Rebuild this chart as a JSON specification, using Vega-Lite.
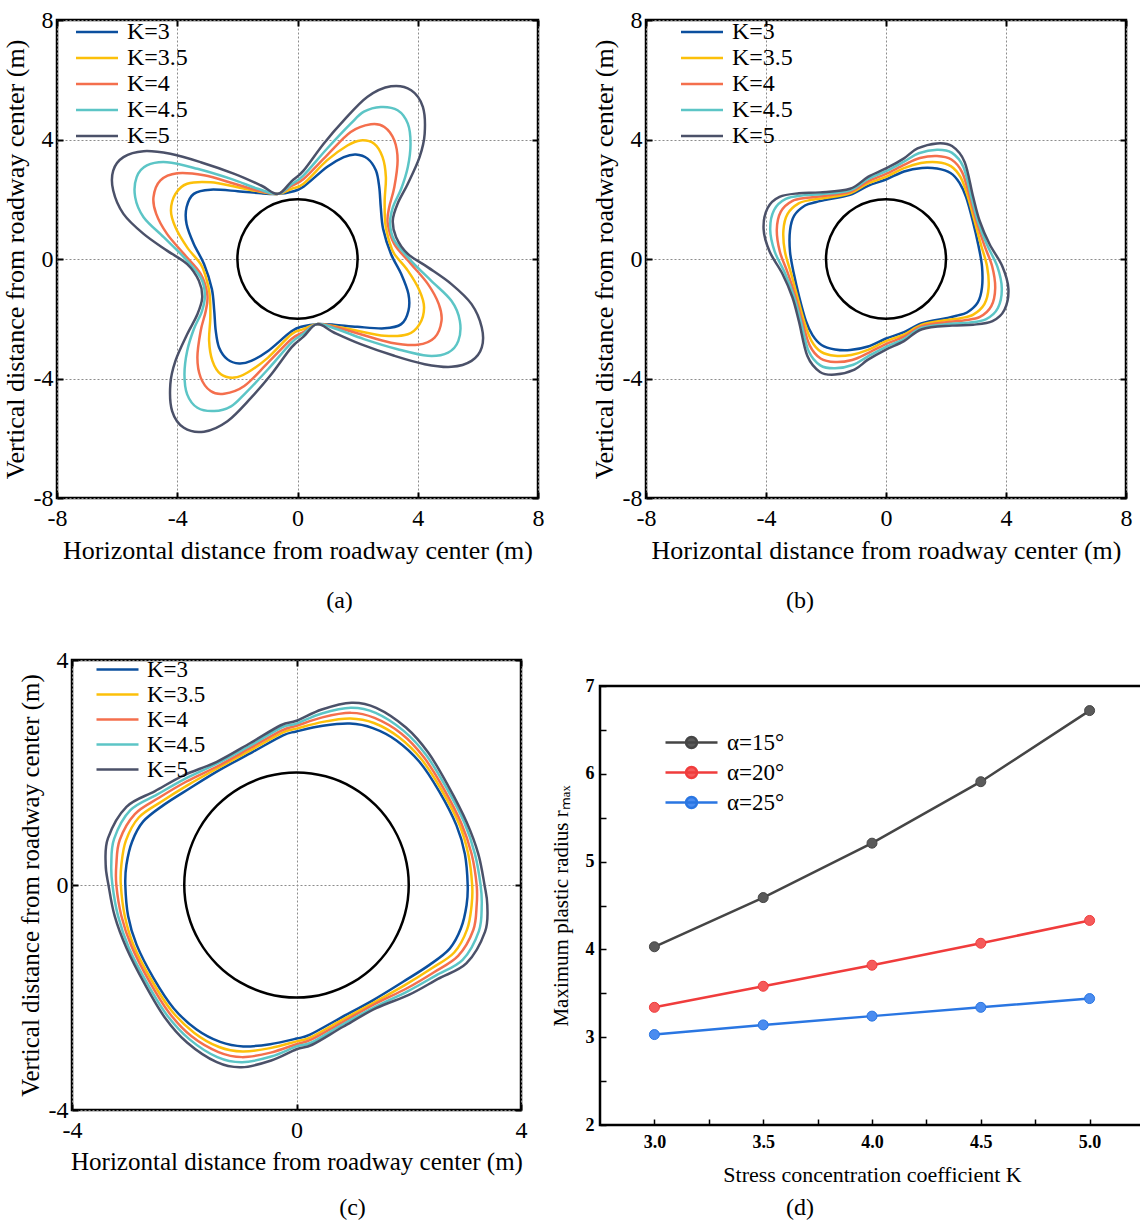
{
"$schema": "https://vega.github.io/schema/vega-lite/v6.json",
"background": "white",
"padding": {"left": 0, "top": 6, "right": 0, "bottom": 0},
"config": {"view": {"stroke": "black", "strokeWidth": 2.5}, "font": "Liberation Serif"},
"datasets": {
"circ": [{"x":2,"y":0},{"x":1.932,"y":0.518},{"x":1.732,"y":1},{"x":1.414,"y":1.414},{"x":1,"y":1.732},{"x":0.518,"y":1.932},{"x":0,"y":2},{"x":-0.518,"y":1.932},{"x":-1,"y":1.732},{"x":-1.414,"y":1.414},{"x":-1.732,"y":1},{"x":-1.932,"y":0.518},{"x":-2,"y":0},{"x":-1.932,"y":-0.518},{"x":-1.732,"y":-1},{"x":-1.414,"y":-1.414},{"x":-1,"y":-1.732},{"x":-0.518,"y":-1.932},{"x":0,"y":-2},{"x":0.518,"y":-1.932},{"x":1,"y":-1.732},{"x":1.414,"y":-1.414},{"x":1.732,"y":-1},{"x":1.932,"y":-0.518}],
"a": [
{"k":"3","x":-0.65,"y":2.18},{"k":"3","x":-0.2,"y":2.25},{"k":"3","x":0.2,"y":2.42},{"k":"3","x":0.98,"y":3.08},{"k":"3","x":1.54,"y":3.41},{"k":"3","x":1.94,"y":3.5},{"k":"3","x":2.33,"y":3.36},{"k":"3","x":2.61,"y":2.96},{"k":"3","x":2.72,"y":2.4},{"k":"3","x":2.77,"y":1.73},{"k":"3","x":2.85,"y":1.0},{"k":"3","x":3.11,"y":0.17},{"k":"3","x":3.45,"y":-0.5},{"k":"3","x":3.69,"y":-1.17},{"k":"3","x":3.69,"y":-1.73},{"k":"3","x":3.45,"y":-2.18},{"k":"3","x":2.89,"y":-2.32},{"k":"3","x":1.99,"y":-2.27},{"k":"3","x":1.21,"y":-2.2},{"k":"3","x":0.65,"y":-2.18},
{"k":"3","x":0.2,"y":-2.25},{"k":"3","x":-0.2,"y":-2.42},{"k":"3","x":-0.98,"y":-3.08},{"k":"3","x":-1.54,"y":-3.41},{"k":"3","x":-1.94,"y":-3.5},{"k":"3","x":-2.33,"y":-3.36},{"k":"3","x":-2.61,"y":-2.96},{"k":"3","x":-2.72,"y":-2.4},{"k":"3","x":-2.77,"y":-1.73},{"k":"3","x":-2.85,"y":-1.0},{"k":"3","x":-3.11,"y":-0.17},{"k":"3","x":-3.45,"y":0.5},{"k":"3","x":-3.69,"y":1.17},{"k":"3","x":-3.69,"y":1.73},{"k":"3","x":-3.45,"y":2.18},{"k":"3","x":-2.89,"y":2.32},{"k":"3","x":-1.99,"y":2.27},{"k":"3","x":-1.21,"y":2.2},
{"k":"3.5","x":-0.65,"y":2.18},{"k":"3.5","x":-0.2,"y":2.35},{"k":"3.5","x":0.2,"y":2.52},{"k":"3.5","x":0.98,"y":3.3},{"k":"3.5","x":1.66,"y":3.8},{"k":"3.5","x":2.1,"y":3.97},{"k":"3.5","x":2.55,"y":3.86},{"k":"3.5","x":2.83,"y":3.41},{"k":"3.5","x":2.94,"y":2.74},{"k":"3.5","x":2.9,"y":1.96},{"k":"3.5","x":2.92,"y":1.2},{"k":"3.5","x":3.05,"y":0.6},{"k":"3.5","x":3.22,"y":0.17},{"k":"3.5","x":3.67,"y":-0.39},{"k":"3.5","x":4.06,"y":-1.06},{"k":"3.5","x":4.21,"y":-1.62},{"k":"3.5","x":4.06,"y":-2.18},{"k":"3.5","x":3.67,"y":-2.52},{"k":"3.5","x":2.89,"y":-2.57},{"k":"3.5","x":1.99,"y":-2.4},{"k":"3.5","x":1.32,"y":-2.27},{"k":"3.5","x":0.65,"y":-2.18},
{"k":"3.5","x":0.2,"y":-2.35},{"k":"3.5","x":-0.2,"y":-2.52},{"k":"3.5","x":-0.98,"y":-3.3},{"k":"3.5","x":-1.66,"y":-3.8},{"k":"3.5","x":-2.1,"y":-3.97},{"k":"3.5","x":-2.55,"y":-3.86},{"k":"3.5","x":-2.83,"y":-3.41},{"k":"3.5","x":-2.94,"y":-2.74},{"k":"3.5","x":-2.9,"y":-1.96},{"k":"3.5","x":-2.92,"y":-1.2},{"k":"3.5","x":-3.05,"y":-0.6},{"k":"3.5","x":-3.22,"y":-0.17},{"k":"3.5","x":-3.67,"y":0.39},{"k":"3.5","x":-4.06,"y":1.06},{"k":"3.5","x":-4.21,"y":1.62},{"k":"3.5","x":-4.06,"y":2.18},{"k":"3.5","x":-3.67,"y":2.52},{"k":"3.5","x":-2.89,"y":2.57},{"k":"3.5","x":-1.99,"y":2.4},{"k":"3.5","x":-1.32,"y":2.27},
{"k":"4","x":-0.65,"y":2.18},{"k":"4","x":-0.2,"y":2.45},{"k":"4","x":0.2,"y":2.68},{"k":"4","x":0.98,"y":3.47},{"k":"4","x":1.77,"y":4.25},{"k":"4","x":2.44,"y":4.51},{"k":"4","x":2.89,"y":4.42},{"k":"4","x":3.22,"y":3.97},{"k":"4","x":3.33,"y":3.3},{"k":"4","x":3.22,"y":2.4},{"k":"4","x":3.05,"y":1.73},{"k":"4","x":3.0,"y":1.2},{"k":"4","x":3.22,"y":0.5},{"k":"4","x":3.78,"y":-0.17},{"k":"4","x":4.34,"y":-0.84},{"k":"4","x":4.7,"y":-1.51},{"k":"4","x":4.79,"y":-2.07},{"k":"4","x":4.56,"y":-2.63},{"k":"4","x":4.0,"y":-2.87},{"k":"4","x":3.11,"y":-2.8},{"k":"4","x":2.1,"y":-2.52},{"k":"4","x":1.32,"y":-2.29},{"k":"4","x":0.65,"y":-2.18},
{"k":"4","x":0.2,"y":-2.45},{"k":"4","x":-0.2,"y":-2.68},{"k":"4","x":-0.98,"y":-3.47},{"k":"4","x":-1.77,"y":-4.25},{"k":"4","x":-2.44,"y":-4.51},{"k":"4","x":-2.89,"y":-4.42},{"k":"4","x":-3.22,"y":-3.97},{"k":"4","x":-3.33,"y":-3.3},{"k":"4","x":-3.22,"y":-2.4},{"k":"4","x":-3.05,"y":-1.73},{"k":"4","x":-3.0,"y":-1.2},{"k":"4","x":-3.22,"y":-0.5},{"k":"4","x":-3.78,"y":0.17},{"k":"4","x":-4.34,"y":0.84},{"k":"4","x":-4.7,"y":1.51},{"k":"4","x":-4.79,"y":2.07},{"k":"4","x":-4.56,"y":2.63},{"k":"4","x":-4.0,"y":2.87},{"k":"4","x":-3.11,"y":2.8},{"k":"4","x":-2.1,"y":2.52},{"k":"4","x":-1.32,"y":2.29},
{"k":"4.5","x":-0.65,"y":2.18},{"k":"4.5","x":-0.2,"y":2.5},{"k":"4.5","x":0.2,"y":2.8},{"k":"4.5","x":0.98,"y":3.69},{"k":"4.5","x":1.77,"y":4.53},{"k":"4.5","x":2.21,"y":4.93},{"k":"4.5","x":2.77,"y":5.09},{"k":"4.5","x":3.33,"y":4.98},{"k":"4.5","x":3.67,"y":4.53},{"k":"4.5","x":3.76,"y":3.86},{"k":"4.5","x":3.67,"y":3.08},{"k":"4.5","x":3.45,"y":2.35},{"k":"4.5","x":3.18,"y":1.75},{"k":"4.5","x":3.08,"y":1.2},{"k":"4.5","x":3.22,"y":0.62},{"k":"4.5","x":3.78,"y":-0.06},{"k":"4.5","x":4.45,"y":-0.73},{"k":"4.5","x":5.12,"y":-1.4},{"k":"4.5","x":5.4,"y":-2.07},{"k":"4.5","x":5.35,"y":-2.74},{"k":"4.5","x":5.01,"y":-3.13},{"k":"4.5","x":4.34,"y":-3.24},{"k":"4.5","x":3.33,"y":-3.02},{"k":"4.5","x":2.21,"y":-2.68},{"k":"4.5","x":1.32,"y":-2.35},{"k":"4.5","x":0.65,"y":-2.18},
{"k":"4.5","x":0.2,"y":-2.5},{"k":"4.5","x":-0.2,"y":-2.8},{"k":"4.5","x":-0.98,"y":-3.69},{"k":"4.5","x":-1.77,"y":-4.53},{"k":"4.5","x":-2.21,"y":-4.93},{"k":"4.5","x":-2.77,"y":-5.09},{"k":"4.5","x":-3.33,"y":-4.98},{"k":"4.5","x":-3.67,"y":-4.53},{"k":"4.5","x":-3.76,"y":-3.86},{"k":"4.5","x":-3.67,"y":-3.08},{"k":"4.5","x":-3.45,"y":-2.35},{"k":"4.5","x":-3.18,"y":-1.75},{"k":"4.5","x":-3.08,"y":-1.2},{"k":"4.5","x":-3.22,"y":-0.62},{"k":"4.5","x":-3.78,"y":0.06},{"k":"4.5","x":-4.45,"y":0.73},{"k":"4.5","x":-5.12,"y":1.4},{"k":"4.5","x":-5.4,"y":2.07},{"k":"4.5","x":-5.35,"y":2.74},{"k":"4.5","x":-5.01,"y":3.13},{"k":"4.5","x":-4.34,"y":3.24},{"k":"4.5","x":-3.33,"y":3.02},{"k":"4.5","x":-2.21,"y":2.68},{"k":"4.5","x":-1.32,"y":2.35},
{"k":"5","x":-0.65,"y":2.18},{"k":"5","x":-0.2,"y":2.6},{"k":"5","x":0.2,"y":2.96},{"k":"5","x":0.87,"y":3.86},{"k":"5","x":1.54,"y":4.64},{"k":"5","x":2.33,"y":5.43},{"k":"5","x":3.11,"y":5.78},{"k":"5","x":3.78,"y":5.65},{"k":"5","x":4.17,"y":5.09},{"k":"5","x":4.23,"y":4.19},{"k":"5","x":4.06,"y":3.41},{"k":"5","x":3.67,"y":2.52},{"k":"5","x":3.33,"y":1.85},{"k":"5","x":3.17,"y":1.29},{"k":"5","x":3.28,"y":0.73},{"k":"5","x":3.67,"y":0.17},{"k":"5","x":4.34,"y":-0.28},{"k":"5","x":5.12,"y":-0.84},{"k":"5","x":5.79,"y":-1.51},{"k":"5","x":6.13,"y":-2.29},{"k":"5","x":6.13,"y":-2.96},{"k":"5","x":5.79,"y":-3.41},{"k":"5","x":5.12,"y":-3.61},{"k":"5","x":4.23,"y":-3.52},{"k":"5","x":3.22,"y":-3.24},{"k":"5","x":2.1,"y":-2.85},{"k":"5","x":1.21,"y":-2.46},{"k":"5","x":0.65,"y":-2.18},
{"k":"5","x":0.2,"y":-2.6},{"k":"5","x":-0.2,"y":-2.96},{"k":"5","x":-0.87,"y":-3.86},{"k":"5","x":-1.54,"y":-4.64},{"k":"5","x":-2.33,"y":-5.43},{"k":"5","x":-3.11,"y":-5.78},{"k":"5","x":-3.78,"y":-5.65},{"k":"5","x":-4.17,"y":-5.09},{"k":"5","x":-4.23,"y":-4.19},{"k":"5","x":-4.06,"y":-3.41},{"k":"5","x":-3.67,"y":-2.52},{"k":"5","x":-3.33,"y":-1.85},{"k":"5","x":-3.17,"y":-1.29},{"k":"5","x":-3.28,"y":-0.73},{"k":"5","x":-3.67,"y":-0.17},{"k":"5","x":-4.34,"y":0.28},{"k":"5","x":-5.12,"y":0.84},{"k":"5","x":-5.79,"y":1.51},{"k":"5","x":-6.13,"y":2.29},{"k":"5","x":-6.13,"y":2.96},{"k":"5","x":-5.79,"y":3.41},{"k":"5","x":-5.12,"y":3.61},{"k":"5","x":-4.23,"y":3.52},{"k":"5","x":-3.22,"y":3.24},{"k":"5","x":-2.1,"y":2.85},{"k":"5","x":-1.21,"y":2.46}
],
"b": [
{"k":"3","x":0,"y":2.66},{"k":"3","x":0.6,"y":2.93},{"k":"3","x":1.2,"y":3.05},{"k":"3","x":1.7,"y":3.03},{"k":"3","x":2.15,"y":2.88},{"k":"3","x":2.45,"y":2.55},{"k":"3","x":2.67,"y":2.07},{"k":"3","x":2.89,"y":1.28},{"k":"3","x":3.08,"y":0.45},{"k":"3","x":3.2,"y":-0.25},{"k":"3","x":3.2,"y":-0.95},{"k":"3","x":3.06,"y":-1.45},{"k":"3","x":2.7,"y":-1.79},{"k":"3","x":2.35,"y":-1.9},{"k":"3","x":2.0,"y":-1.98},{"k":"3","x":1.2,"y":-2.15},{"k":"3","x":0.6,"y":-2.45},{"k":"3","x":0,"y":-2.66},
{"k":"3","x":-0.6,"y":-2.93},{"k":"3","x":-1.2,"y":-3.05},{"k":"3","x":-1.7,"y":-3.03},{"k":"3","x":-2.15,"y":-2.88},{"k":"3","x":-2.45,"y":-2.55},{"k":"3","x":-2.67,"y":-2.07},{"k":"3","x":-2.89,"y":-1.28},{"k":"3","x":-3.08,"y":-0.45},{"k":"3","x":-3.2,"y":0.25},{"k":"3","x":-3.2,"y":0.95},{"k":"3","x":-3.06,"y":1.45},{"k":"3","x":-2.7,"y":1.79},{"k":"3","x":-2.35,"y":1.9},{"k":"3","x":-2.0,"y":1.98},{"k":"3","x":-1.2,"y":2.15},{"k":"3","x":-0.6,"y":2.45},
{"k":"3.5","x":0,"y":2.75},{"k":"3.5","x":0.6,"y":3.04},{"k":"3.5","x":1.16,"y":3.21},{"k":"3.5","x":1.7,"y":3.24},{"k":"3.5","x":2.16,"y":3.11},{"k":"3.5","x":2.49,"y":2.73},{"k":"3.5","x":2.73,"y":2.08},{"k":"3.5","x":2.95,"y":1.28},{"k":"3.5","x":3.17,"y":0.46},{"k":"3.5","x":3.37,"y":-0.25},{"k":"3.5","x":3.42,"y":-0.96},{"k":"3.5","x":3.28,"y":-1.51},{"k":"3.5","x":2.91,"y":-1.86},{"k":"3.5","x":2.49,"y":-1.98},{"k":"3.5","x":2.05,"y":-2.04},{"k":"3.5","x":1.2,"y":-2.2},{"k":"3.5","x":0.6,"y":-2.53},{"k":"3.5","x":0,"y":-2.75},
{"k":"3.5","x":-0.6,"y":-3.04},{"k":"3.5","x":-1.16,"y":-3.21},{"k":"3.5","x":-1.7,"y":-3.24},{"k":"3.5","x":-2.16,"y":-3.11},{"k":"3.5","x":-2.49,"y":-2.73},{"k":"3.5","x":-2.73,"y":-2.08},{"k":"3.5","x":-2.95,"y":-1.28},{"k":"3.5","x":-3.17,"y":-0.46},{"k":"3.5","x":-3.37,"y":0.25},{"k":"3.5","x":-3.42,"y":0.96},{"k":"3.5","x":-3.28,"y":1.51},{"k":"3.5","x":-2.91,"y":1.86},{"k":"3.5","x":-2.49,"y":1.98},{"k":"3.5","x":-2.05,"y":2.04},{"k":"3.5","x":-1.2,"y":2.2},{"k":"3.5","x":-0.6,"y":2.53},
{"k":"4","x":0,"y":2.85},{"k":"4","x":0.6,"y":3.15},{"k":"4","x":1.13,"y":3.38},{"k":"4","x":1.7,"y":3.45},{"k":"4","x":2.18,"y":3.33},{"k":"4","x":2.54,"y":2.9},{"k":"4","x":2.79,"y":2.09},{"k":"4","x":3.01,"y":1.28},{"k":"4","x":3.27,"y":0.48},{"k":"4","x":3.54,"y":-0.25},{"k":"4","x":3.64,"y":-0.98},{"k":"4","x":3.51,"y":-1.58},{"k":"4","x":3.13,"y":-1.94},{"k":"4","x":2.63,"y":-2.05},{"k":"4","x":2.1,"y":-2.11},{"k":"4","x":1.2,"y":-2.25},{"k":"4","x":0.6,"y":-2.6},{"k":"4","x":0,"y":-2.85},
{"k":"4","x":-0.6,"y":-3.15},{"k":"4","x":-1.13,"y":-3.38},{"k":"4","x":-1.7,"y":-3.45},{"k":"4","x":-2.18,"y":-3.33},{"k":"4","x":-2.54,"y":-2.9},{"k":"4","x":-2.79,"y":-2.09},{"k":"4","x":-3.01,"y":-1.28},{"k":"4","x":-3.27,"y":-0.48},{"k":"4","x":-3.54,"y":0.25},{"k":"4","x":-3.64,"y":0.98},{"k":"4","x":-3.51,"y":1.58},{"k":"4","x":-3.13,"y":1.94},{"k":"4","x":-2.63,"y":2.05},{"k":"4","x":-2.1,"y":2.11},{"k":"4","x":-1.2,"y":2.25},{"k":"4","x":-0.6,"y":2.6},
{"k":"4.5","x":0,"y":2.94},{"k":"4.5","x":0.6,"y":3.26},{"k":"4.5","x":1.09,"y":3.54},{"k":"4.5","x":1.7,"y":3.66},{"k":"4.5","x":2.19,"y":3.56},{"k":"4.5","x":2.58,"y":3.08},{"k":"4.5","x":2.84,"y":2.09},{"k":"4.5","x":3.06,"y":1.28},{"k":"4.5","x":3.36,"y":0.49},{"k":"4.5","x":3.71,"y":-0.25},{"k":"4.5","x":3.86,"y":-0.99},{"k":"4.5","x":3.73,"y":-1.64},{"k":"4.5","x":3.34,"y":-2.01},{"k":"4.5","x":2.76,"y":-2.13},{"k":"4.5","x":2.15,"y":-2.17},{"k":"4.5","x":1.2,"y":-2.3},{"k":"4.5","x":0.6,"y":-2.68},{"k":"4.5","x":0,"y":-2.94},
{"k":"4.5","x":-0.6,"y":-3.26},{"k":"4.5","x":-1.09,"y":-3.54},{"k":"4.5","x":-1.7,"y":-3.66},{"k":"4.5","x":-2.19,"y":-3.56},{"k":"4.5","x":-2.58,"y":-3.08},{"k":"4.5","x":-2.84,"y":-2.09},{"k":"4.5","x":-3.06,"y":-1.28},{"k":"4.5","x":-3.36,"y":-0.49},{"k":"4.5","x":-3.71,"y":0.25},{"k":"4.5","x":-3.86,"y":0.99},{"k":"4.5","x":-3.73,"y":1.64},{"k":"4.5","x":-3.34,"y":2.01},{"k":"4.5","x":-2.76,"y":2.13},{"k":"4.5","x":-2.15,"y":2.17},{"k":"4.5","x":-1.2,"y":2.3},{"k":"4.5","x":-0.6,"y":2.68},
{"k":"5","x":0,"y":3.03},{"k":"5","x":0.6,"y":3.37},{"k":"5","x":1.05,"y":3.7},{"k":"5","x":1.7,"y":3.87},{"k":"5","x":2.2,"y":3.78},{"k":"5","x":2.62,"y":3.25},{"k":"5","x":2.9,"y":2.1},{"k":"5","x":3.12,"y":1.28},{"k":"5","x":3.45,"y":0.5},{"k":"5","x":3.88,"y":-0.25},{"k":"5","x":4.08,"y":-1.0},{"k":"5","x":3.95,"y":-1.7},{"k":"5","x":3.55,"y":-2.08},{"k":"5","x":2.9,"y":-2.2},{"k":"5","x":2.2,"y":-2.23},{"k":"5","x":1.2,"y":-2.35},{"k":"5","x":0.6,"y":-2.75},{"k":"5","x":0,"y":-3.03},
{"k":"5","x":-0.6,"y":-3.37},{"k":"5","x":-1.05,"y":-3.7},{"k":"5","x":-1.7,"y":-3.87},{"k":"5","x":-2.2,"y":-3.78},{"k":"5","x":-2.62,"y":-3.25},{"k":"5","x":-2.9,"y":-2.1},{"k":"5","x":-3.12,"y":-1.28},{"k":"5","x":-3.45,"y":-0.5},{"k":"5","x":-3.88,"y":0.25},{"k":"5","x":-4.08,"y":1.0},{"k":"5","x":-3.95,"y":1.7},{"k":"5","x":-3.55,"y":2.08},{"k":"5","x":-2.9,"y":2.2},{"k":"5","x":-2.2,"y":2.23},{"k":"5","x":-1.2,"y":2.35},{"k":"5","x":-0.6,"y":2.75}
],
"c": [
{"k":"3","x":0,"y":2.73},{"k":"3","x":0.47,"y":2.83},{"k":"3","x":0.95,"y":2.87},{"k":"3","x":1.36,"y":2.79},{"k":"3","x":1.78,"y":2.57},{"k":"3","x":2.19,"y":2.19},{"k":"3","x":2.55,"y":1.65},{"k":"3","x":2.85,"y":1.06},{"k":"3","x":3.0,"y":0.55},{"k":"3","x":3.05,"y":0},{"k":"3","x":3.03,"y":-0.36},{"k":"3","x":2.93,"y":-0.77},{"k":"3","x":2.73,"y":-1.13},{"k":"3","x":2.37,"y":-1.42},{"k":"3","x":1.9,"y":-1.72},{"k":"3","x":1.36,"y":-2.05},{"k":"3","x":0.77,"y":-2.37},{"k":"3","x":0.24,"y":-2.66},{"k":"3","x":0,"y":-2.73},
{"k":"3","x":-0.47,"y":-2.83},{"k":"3","x":-0.95,"y":-2.87},{"k":"3","x":-1.36,"y":-2.79},{"k":"3","x":-1.78,"y":-2.57},{"k":"3","x":-2.19,"y":-2.19},{"k":"3","x":-2.55,"y":-1.65},{"k":"3","x":-2.85,"y":-1.06},{"k":"3","x":-3.0,"y":-0.55},{"k":"3","x":-3.05,"y":0},{"k":"3","x":-3.03,"y":0.36},{"k":"3","x":-2.93,"y":0.77},{"k":"3","x":-2.73,"y":1.13},{"k":"3","x":-2.37,"y":1.42},{"k":"3","x":-1.9,"y":1.72},{"k":"3","x":-1.36,"y":2.05},{"k":"3","x":-0.77,"y":2.37},{"k":"3","x":-0.24,"y":2.66},
{"k":"3.5","x":0,"y":2.78},{"k":"3.5","x":0.47,"y":2.9},{"k":"3.5","x":0.96,"y":2.96},{"k":"3.5","x":1.38,"y":2.88},{"k":"3.5","x":1.82,"y":2.63},{"k":"3.5","x":2.23,"y":2.23},{"k":"3.5","x":2.59,"y":1.68},{"k":"3.5","x":2.9,"y":1.08},{"k":"3.5","x":3.06,"y":0.55},{"k":"3.5","x":3.13,"y":0},{"k":"3.5","x":3.12,"y":-0.36},{"k":"3.5","x":3.04,"y":-0.79},{"k":"3.5","x":2.81,"y":-1.2},{"k":"3.5","x":2.41,"y":-1.48},{"k":"3.5","x":1.93,"y":-1.78},{"k":"3.5","x":1.38,"y":-2.09},{"k":"3.5","x":0.79,"y":-2.41},{"k":"3.5","x":0.25,"y":-2.71},{"k":"3.5","x":0,"y":-2.78},
{"k":"3.5","x":-0.47,"y":-2.9},{"k":"3.5","x":-0.96,"y":-2.96},{"k":"3.5","x":-1.38,"y":-2.88},{"k":"3.5","x":-1.82,"y":-2.63},{"k":"3.5","x":-2.23,"y":-2.23},{"k":"3.5","x":-2.59,"y":-1.68},{"k":"3.5","x":-2.9,"y":-1.08},{"k":"3.5","x":-3.06,"y":-0.55},{"k":"3.5","x":-3.13,"y":0},{"k":"3.5","x":-3.12,"y":0.36},{"k":"3.5","x":-3.04,"y":0.79},{"k":"3.5","x":-2.81,"y":1.2},{"k":"3.5","x":-2.41,"y":1.48},{"k":"3.5","x":-1.93,"y":1.78},{"k":"3.5","x":-1.38,"y":2.09},{"k":"3.5","x":-0.79,"y":2.41},{"k":"3.5","x":-0.25,"y":2.71},
{"k":"4","x":0,"y":2.83},{"k":"4","x":0.46,"y":2.98},{"k":"4","x":0.97,"y":3.06},{"k":"4","x":1.39,"y":2.97},{"k":"4","x":1.87,"y":2.69},{"k":"4","x":2.27,"y":2.27},{"k":"4","x":2.63,"y":1.7},{"k":"4","x":2.94,"y":1.09},{"k":"4","x":3.12,"y":0.55},{"k":"4","x":3.21,"y":0},{"k":"4","x":3.21,"y":-0.36},{"k":"4","x":3.15,"y":-0.8},{"k":"4","x":2.88,"y":-1.26},{"k":"4","x":2.45,"y":-1.55},{"k":"4","x":1.96,"y":-1.84},{"k":"4","x":1.39,"y":-2.12},{"k":"4","x":0.8,"y":-2.45},{"k":"4","x":0.26,"y":-2.75},{"k":"4","x":0,"y":-2.83},
{"k":"4","x":-0.46,"y":-2.98},{"k":"4","x":-0.97,"y":-3.06},{"k":"4","x":-1.39,"y":-2.97},{"k":"4","x":-1.87,"y":-2.69},{"k":"4","x":-2.27,"y":-2.27},{"k":"4","x":-2.63,"y":-1.7},{"k":"4","x":-2.94,"y":-1.09},{"k":"4","x":-3.12,"y":-0.55},{"k":"4","x":-3.21,"y":0},{"k":"4","x":-3.21,"y":0.36},{"k":"4","x":-3.15,"y":0.8},{"k":"4","x":-2.88,"y":1.26},{"k":"4","x":-2.45,"y":1.55},{"k":"4","x":-1.96,"y":1.84},{"k":"4","x":-1.39,"y":2.12},{"k":"4","x":-0.8,"y":2.45},{"k":"4","x":-0.26,"y":2.75},
{"k":"4.5","x":0,"y":2.87},{"k":"4.5","x":0.45,"y":3.05},{"k":"4.5","x":0.97,"y":3.15},{"k":"4.5","x":1.41,"y":3.06},{"k":"4.5","x":1.91,"y":2.74},{"k":"4.5","x":2.31,"y":2.31},{"k":"4.5","x":2.67,"y":1.73},{"k":"4.5","x":2.99,"y":1.11},{"k":"4.5","x":3.18,"y":0.55},{"k":"4.5","x":3.28,"y":0},{"k":"4.5","x":3.3,"y":-0.36},{"k":"4.5","x":3.25,"y":-0.82},{"k":"4.5","x":2.96,"y":-1.33},{"k":"4.5","x":2.48,"y":-1.61},{"k":"4.5","x":1.98,"y":-1.89},{"k":"4.5","x":1.41,"y":-2.16},{"k":"4.5","x":0.82,"y":-2.48},{"k":"4.5","x":0.27,"y":-2.8},{"k":"4.5","x":0,"y":-2.87},
{"k":"4.5","x":-0.45,"y":-3.05},{"k":"4.5","x":-0.97,"y":-3.15},{"k":"4.5","x":-1.41,"y":-3.06},{"k":"4.5","x":-1.91,"y":-2.74},{"k":"4.5","x":-2.31,"y":-2.31},{"k":"4.5","x":-2.67,"y":-1.73},{"k":"4.5","x":-2.99,"y":-1.11},{"k":"4.5","x":-3.18,"y":-0.55},{"k":"4.5","x":-3.28,"y":0},{"k":"4.5","x":-3.3,"y":0.36},{"k":"4.5","x":-3.25,"y":0.82},{"k":"4.5","x":-2.96,"y":1.33},{"k":"4.5","x":-2.48,"y":1.61},{"k":"4.5","x":-1.98,"y":1.89},{"k":"4.5","x":-1.41,"y":2.16},{"k":"4.5","x":-0.82,"y":2.48},{"k":"4.5","x":-0.27,"y":2.8},
{"k":"5","x":0,"y":2.92},{"k":"5","x":0.45,"y":3.12},{"k":"5","x":0.98,"y":3.24},{"k":"5","x":1.42,"y":3.15},{"k":"5","x":1.95,"y":2.8},{"k":"5","x":2.35,"y":2.35},{"k":"5","x":2.71,"y":1.75},{"k":"5","x":3.03,"y":1.12},{"k":"5","x":3.24,"y":0.55},{"k":"5","x":3.35,"y":0},{"k":"5","x":3.4,"y":-0.36},{"k":"5","x":3.36,"y":-0.83},{"k":"5","x":3.03,"y":-1.39},{"k":"5","x":2.52,"y":-1.67},{"k":"5","x":2.01,"y":-1.95},{"k":"5","x":1.42,"y":-2.19},{"k":"5","x":0.83,"y":-2.52},{"k":"5","x":0.28,"y":-2.84},{"k":"5","x":0,"y":-2.92},
{"k":"5","x":-0.45,"y":-3.12},{"k":"5","x":-0.98,"y":-3.24},{"k":"5","x":-1.42,"y":-3.15},{"k":"5","x":-1.95,"y":-2.8},{"k":"5","x":-2.35,"y":-2.35},{"k":"5","x":-2.71,"y":-1.75},{"k":"5","x":-3.03,"y":-1.12},{"k":"5","x":-3.24,"y":-0.55},{"k":"5","x":-3.35,"y":0},{"k":"5","x":-3.4,"y":0.36},{"k":"5","x":-3.36,"y":0.83},{"k":"5","x":-3.03,"y":1.39},{"k":"5","x":-2.52,"y":1.67},{"k":"5","x":-2.01,"y":1.95},{"k":"5","x":-1.42,"y":2.19},{"k":"5","x":-0.83,"y":2.52},{"k":"5","x":-0.28,"y":2.84}
],
"d": [
{"s":"α=15°","K":3,"r":4.03},{"s":"α=15°","K":3.5,"r":4.59},{"s":"α=15°","K":4,"r":5.21},{"s":"α=15°","K":4.5,"r":5.91},{"s":"α=15°","K":5,"r":6.72},
{"s":"α=20°","K":3,"r":3.34},{"s":"α=20°","K":3.5,"r":3.58},{"s":"α=20°","K":4,"r":3.82},{"s":"α=20°","K":4.5,"r":4.07},{"s":"α=20°","K":5,"r":4.33},
{"s":"α=25°","K":3,"r":3.03},{"s":"α=25°","K":3.5,"r":3.14},{"s":"α=25°","K":4,"r":3.24},{"s":"α=25°","K":4.5,"r":3.34},{"s":"α=25°","K":5,"r":3.44}
]
},
"spacing": 640,
"bounds": "flush",
"resolve": {"scale": {"color": "independent", "stroke": "independent", "fill": "independent"}, "legend": {"color": "independent", "stroke": "independent", "fill": "independent"}},
"vconcat": [
{
"spacing": 108,
"bounds": "flush",
"resolve": {"scale": {"color": "independent"}, "legend": {"color": "independent"}},
"hconcat": [
{
"width": 481, "height": 478,
"title": {"text": "(a)", "orient": "bottom", "anchor": "middle", "dx": 42, "offset": 26, "fontSize": 24, "font": "Liberation Serif", "fontWeight": "normal", "color": "black"},
"layer": [
{"data": {"name": "circ"}, "mark": {"type": "line", "interpolate": "cardinal-closed", "color": "black", "strokeWidth": 2.5},
"encoding": {
"x": {"field": "x", "type": "quantitative", "scale": {"domain": [-8, 8], "nice": false, "zero": false}, "axis": {"orient": "top", "values": [-8,-4,0,4,8], "labels": false, "title": null, "grid": false, "domain": false, "tickSize": -6, "tickColor": "black", "tickWidth": 2}},
"y": {"field": "y", "type": "quantitative", "scale": {"domain": [-8, 8], "nice": false, "zero": false}, "axis": {"orient": "right", "values": [-8,-4,0,4,8], "labels": false, "title": null, "grid": false, "domain": false, "tickSize": -6, "tickColor": "black", "tickWidth": 2}},
"order": {"value": null}}},
{"data": {"name": "a"}, "mark": {"type": "line", "interpolate": "cardinal-closed", "strokeWidth": 2.5},
"encoding": {
"x": {"field": "x", "type": "quantitative", "scale": {"domain": [-8, 8], "nice": false, "zero": false}, "axis": {"orient": "bottom", "values": [-8,-4,0,4,8], "title": "Horizontal distance from roadway center (m)", "grid": true, "gridColor": "#8c8c8c", "gridDash": [2,2], "gridWidth": 1, "domain": false, "tickSize": -6, "tickColor": "black", "tickWidth": 2, "labelExpr": "datum.value < 0 ? '-' + abs(datum.value) : '' + datum.value", "labelFont": "Liberation Serif", "labelFontSize": 24, "labelColor": "black", "labelPadding": 14, "labelFlush": false, "labelOverlap": false, "titleFont": "Liberation Serif", "titleFontSize": 26, "titleFontWeight": "normal", "titleColor": "black", "titlePadding": 7}},
"y": {"field": "y", "type": "quantitative", "scale": {"domain": [-8, 8], "nice": false, "zero": false}, "axis": {"orient": "left", "values": [-8,-4,0,4,8], "title": "Vertical distance from roadway center (m)", "grid": true, "gridColor": "#8c8c8c", "gridDash": [2,2], "gridWidth": 1, "domain": false, "tickSize": -6, "tickColor": "black", "tickWidth": 2, "labelExpr": "datum.value < 0 ? '-' + abs(datum.value) : '' + datum.value", "labelFont": "Liberation Serif", "labelFontSize": 24, "labelColor": "black", "labelPadding": 10, "labelFlush": false, "labelOverlap": false, "titleFont": "Liberation Serif", "titleFontSize": 26, "titleFontWeight": "normal", "titleColor": "black", "titlePadding": 5}},
"color": {"field": "k", "type": "nominal", "scale": {"domain": ["3","3.5","4","4.5","5"], "range": ["#0b4f9e","#fcc00a","#f46f4d","#5cc5c6","#4b5169"]}, "legend": {"title": null, "orient": "none", "legendX": 28, "legendY": 0, "symbolType": "M-4.2,0H4.2", "symbolSize": 100, "symbolStrokeWidth": 2.5, "labelExpr": "'K=' + datum.label", "labelFont": "Liberation Serif", "labelFontSize": 24, "labelColor": "black", "labelOffset": 18, "rowPadding": 2, "padding": 0}},
"order": {"value": null}}}
],
"resolve": {"axis": {"x": "independent", "y": "independent"}}
},
{
"width": 480, "height": 478,
"title": {"text": "(b)", "orient": "bottom", "anchor": "middle", "dx": -86, "offset": 26, "fontSize": 24, "font": "Liberation Serif", "fontWeight": "normal", "color": "black"},
"layer": [
{"data": {"name": "circ"}, "mark": {"type": "line", "interpolate": "cardinal-closed", "color": "black", "strokeWidth": 2.5},
"encoding": {
"x": {"field": "x", "type": "quantitative", "scale": {"domain": [-8, 8], "nice": false, "zero": false}, "axis": {"orient": "top", "values": [-8,-4,0,4,8], "labels": false, "title": null, "grid": false, "domain": false, "tickSize": -6, "tickColor": "black", "tickWidth": 2}},
"y": {"field": "y", "type": "quantitative", "scale": {"domain": [-8, 8], "nice": false, "zero": false}, "axis": {"orient": "right", "values": [-8,-4,0,4,8], "labels": false, "title": null, "grid": false, "domain": false, "tickSize": -6, "tickColor": "black", "tickWidth": 2}},
"order": {"value": null}}},
{"data": {"name": "b"}, "mark": {"type": "line", "interpolate": "cardinal-closed", "strokeWidth": 2.5},
"encoding": {
"x": {"field": "x", "type": "quantitative", "scale": {"domain": [-8, 8], "nice": false, "zero": false}, "axis": {"orient": "bottom", "values": [-8,-4,0,4,8], "title": "Horizontal distance from roadway center (m)", "grid": true, "gridColor": "#8c8c8c", "gridDash": [2,2], "gridWidth": 1, "domain": false, "tickSize": -6, "tickColor": "black", "tickWidth": 2, "labelExpr": "datum.value < 0 ? '-' + abs(datum.value) : '' + datum.value", "labelFont": "Liberation Serif", "labelFontSize": 24, "labelColor": "black", "labelPadding": 14, "labelFlush": false, "labelOverlap": false, "titleFont": "Liberation Serif", "titleFontSize": 26, "titleFontWeight": "normal", "titleColor": "black", "titlePadding": 7}},
"y": {"field": "y", "type": "quantitative", "scale": {"domain": [-8, 8], "nice": false, "zero": false}, "axis": {"orient": "left", "values": [-8,-4,0,4,8], "title": "Vertical distance from roadway center (m)", "grid": true, "gridColor": "#8c8c8c", "gridDash": [2,2], "gridWidth": 1, "domain": false, "tickSize": -6, "tickColor": "black", "tickWidth": 2, "labelExpr": "datum.value < 0 ? '-' + abs(datum.value) : '' + datum.value", "labelFont": "Liberation Serif", "labelFontSize": 24, "labelColor": "black", "labelPadding": 10, "labelFlush": false, "labelOverlap": false, "titleFont": "Liberation Serif", "titleFontSize": 26, "titleFontWeight": "normal", "titleColor": "black", "titlePadding": 5}},
"color": {"field": "k", "type": "nominal", "scale": {"domain": ["3","3.5","4","4.5","5"], "range": ["#0b4f9e","#fcc00a","#f46f4d","#5cc5c6","#4b5169"]}, "legend": {"title": null, "orient": "none", "legendX": 44, "legendY": 0, "symbolType": "M-4.2,0H4.2", "symbolSize": 100, "symbolStrokeWidth": 2.5, "labelExpr": "'K=' + datum.label", "labelFont": "Liberation Serif", "labelFontSize": 24, "labelColor": "black", "labelOffset": 18, "rowPadding": 2, "padding": 0}},
"order": {"value": null}}}
],
"resolve": {"axis": {"x": "independent", "y": "independent"}}
}
]
},
{
"spacing": 0,
"bounds": "flush",
"resolve": {"scale": {"color": "independent", "stroke": "independent", "fill": "independent"}, "legend": {"color": "independent", "stroke": "independent", "fill": "independent"}},
"hconcat": [
{"width": 15, "height": 10, "view": {"stroke": null}, "data": {"values": [{"z": 0}]}, "mark": {"type": "point", "opacity": 0}, "encoding": {}},
{
"spacing": 79,
"bounds": "flush",
"resolve": {"scale": {"color": "independent", "stroke": "independent", "fill": "independent"}, "legend": {"color": "independent", "stroke": "independent", "fill": "independent"}},
"hconcat": [
{
"width": 449, "height": 450,
"title": {"text": "(c)", "orient": "bottom", "anchor": "middle", "dx": 56, "offset": 22, "fontSize": 24, "font": "Liberation Serif", "fontWeight": "normal", "color": "black"},
"layer": [
{"data": {"name": "circ"}, "mark": {"type": "line", "interpolate": "cardinal-closed", "color": "black", "strokeWidth": 2.5},
"encoding": {
"x": {"field": "x", "type": "quantitative", "scale": {"domain": [-4, 4], "nice": false, "zero": false}, "axis": {"orient": "top", "values": [-4,0,4], "labels": false, "title": null, "grid": false, "domain": false, "tickSize": -6, "tickColor": "black", "tickWidth": 2}},
"y": {"field": "y", "type": "quantitative", "scale": {"domain": [-4, 4], "nice": false, "zero": false}, "axis": {"orient": "right", "values": [-4,0,4], "labels": false, "title": null, "grid": false, "domain": false, "tickSize": -6, "tickColor": "black", "tickWidth": 2}},
"order": {"value": null}}},
{"data": {"name": "c"}, "mark": {"type": "line", "interpolate": "cardinal-closed", "strokeWidth": 2.5},
"encoding": {
"x": {"field": "x", "type": "quantitative", "scale": {"domain": [-4, 4], "nice": false, "zero": false}, "axis": {"orient": "bottom", "values": [-4,0,4], "title": "Horizontal distance from roadway center (m)", "grid": true, "gridColor": "#8c8c8c", "gridDash": [2,2], "gridWidth": 1, "domain": false, "tickSize": -6, "tickColor": "black", "tickWidth": 2, "labelExpr": "datum.value < 0 ? '-' + abs(datum.value) : '' + datum.value", "labelFont": "Liberation Serif", "labelFontSize": 24, "labelColor": "black", "labelPadding": 14, "labelFlush": false, "labelOverlap": false, "titleFont": "Liberation Serif", "titleFontSize": 25, "titleFontWeight": "normal", "titleColor": "black", "titlePadding": 7}},
"y": {"field": "y", "type": "quantitative", "scale": {"domain": [-4, 4], "nice": false, "zero": false}, "axis": {"orient": "left", "values": [-4,0,4], "title": "Vertical distance from roadway center (m)", "grid": true, "gridColor": "#8c8c8c", "gridDash": [2,2], "gridWidth": 1, "domain": false, "tickSize": -6, "tickColor": "black", "tickWidth": 2, "labelExpr": "datum.value < 0 ? '-' + abs(datum.value) : '' + datum.value", "labelFont": "Liberation Serif", "labelFontSize": 24, "labelColor": "black", "labelPadding": 10, "labelFlush": false, "labelOverlap": false, "titleFont": "Liberation Serif", "titleFontSize": 25, "titleFontWeight": "normal", "titleColor": "black", "titlePadding": 5}},
"color": {"field": "k", "type": "nominal", "scale": {"domain": ["3","3.5","4","4.5","5"], "range": ["#0b4f9e","#fcc00a","#f46f4d","#5cc5c6","#4b5169"]}, "legend": {"title": null, "orient": "none", "legendX": 34, "legendY": -2, "symbolType": "M-4.2,0H4.2", "symbolSize": 100, "symbolStrokeWidth": 2.5, "labelExpr": "'K=' + datum.label", "labelFont": "Liberation Serif", "labelFontSize": 23, "labelColor": "black", "labelOffset": 18, "rowPadding": 1, "padding": 0}},
"order": {"value": null}}}
],
"resolve": {"axis": {"x": "independent", "y": "independent"}}
},
{
"spacing": 0,
"bounds": "flush",
"resolve": {"scale": {"stroke": "independent", "fill": "independent"}, "legend": {"stroke": "independent", "fill": "independent"}},
"vconcat": [
{"width": 10, "height": 26, "view": {"stroke": null}, "data": {"values": [{"z": 0}]}, "mark": {"type": "point", "opacity": 0}, "encoding": {}},
{
"width": 544, "height": 439,
"data": {"name": "d"},
"title": {"text": "(d)", "orient": "bottom", "anchor": "middle", "dx": -72, "offset": 11, "fontSize": 24, "font": "Liberation Serif", "fontWeight": "normal", "color": "black"},
"layer": [
{"mark": {"type": "line", "strokeWidth": 2.5},
"encoding": {
"x": {"field": "K", "type": "quantitative", "scale": {"domain": [2.75, 5.25], "nice": false, "zero": false}, "axis": {"values": [3,3.25,3.5,3.75,4,4.25,4.5,4.75,5], "labelExpr": "(datum.value * 2) % 1 == 0 ? format(datum.value, '.1f') : ''", "title": "Stress concentration coefficient K", "grid": false, "domain": false, "tickSize": -6, "tickColor": "black", "tickWidth": 1.5, "labelFont": "Liberation Serif", "labelFontWeight": "bold", "labelFontSize": 18, "labelColor": "black", "labelPadding": 14, "labelFlush": false, "titleFont": "Liberation Serif", "titleFontSize": 22, "titleFontWeight": "normal", "titleColor": "black", "titlePadding": 13}},
"y": {"field": "r", "type": "quantitative", "scale": {"domain": [2, 7], "nice": false, "zero": false}, "axis": {"values": [2,2.5,3,3.5,4,4.5,5,5.5,6,6.5,7], "labelExpr": "datum.value % 1 == 0 ? '' + datum.value : ''", "title": "Maximum plastic radius rₘₐₓ", "grid": false, "domain": false, "tickSize": -6, "tickColor": "black", "tickWidth": 1.5, "labelFont": "Liberation Serif", "labelFontWeight": "bold", "labelFontSize": 18, "labelColor": "black", "labelPadding": 12, "labelFlush": false, "titleFont": "Liberation Serif", "titleFontSize": 21, "titleFontWeight": "normal", "titleColor": "black", "titlePadding": 14}},
"stroke": {"field": "s", "type": "nominal", "scale": {"domain": ["α=15°","α=20°","α=25°"], "range": ["#454545","#f03c3c","#2a76e2"]}, "legend": {"title": null, "orient": "none", "legendX": 80, "legendY": 45, "symbolType": "M-5.2,0H5.2M1.1,0A1.1,1.1,0,1,1,-1.1,0A1.1,1.1,0,1,1,1.1,0", "symbolSize": 100, "symbolStrokeWidth": 2.5, "labelFont": "Liberation Serif", "labelFontSize": 23, "labelColor": "black", "labelOffset": 24, "rowPadding": 6, "padding": 0}}}},
{"mark": {"type": "point", "filled": true, "size": 100, "opacity": 1, "strokeWidth": 1},
"encoding": {
"x": {"field": "K", "type": "quantitative"},
"y": {"field": "r", "type": "quantitative"},
"fill": {"field": "s", "type": "nominal", "scale": {"domain": ["α=15°","α=20°","α=25°"], "range": ["#5a5a5a","#f55a5a","#4a8cf0"]}, "legend": {"title": null, "orient": "none", "legendX": 80, "legendY": 45, "symbolType": "M-5.2,0H5.2M1.1,0A1.1,1.1,0,1,1,-1.1,0A1.1,1.1,0,1,1,1.1,0", "symbolSize": 100, "symbolStrokeWidth": 2.5, "labelFont": "Liberation Serif", "labelFontSize": 23, "labelColor": "black", "labelOffset": 24, "rowPadding": 6, "padding": 0}},
"stroke": {"field": "s", "type": "nominal"}}}
]
}
]
}
]
}
]
}
]
}
